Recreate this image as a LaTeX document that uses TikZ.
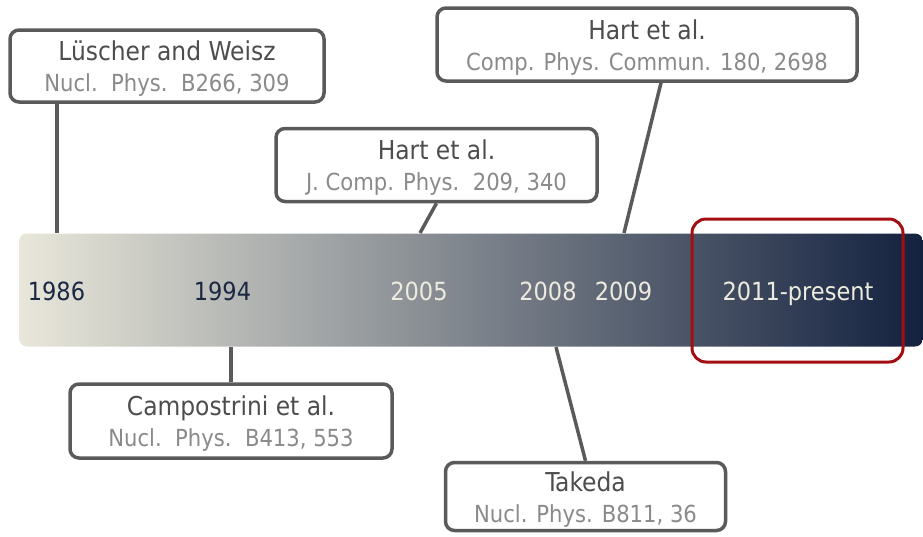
\documentclass[tikz,border=0pt]{standalone}
\usepackage{fontspec}
\IfFontExistsTF{DejaVu Sans Condensed}{\setmainfont{DejaVu Sans Condensed}}{\setmainfont[FakeStretch=0.9]{DejaVu Sans}}
\usepackage{xcolor}
\usepackage{tikz}
\usetikzlibrary{backgrounds}

\definecolor{boxgray}{HTML}{5A5A5A}
\definecolor{titlegray}{HTML}{4D4D4D}
\definecolor{subgray}{HTML}{8A8A8A}
\definecolor{yeardark}{HTML}{1B2844}
\definecolor{yearlight}{HTML}{EDEBDE}
\definecolor{barleft}{HTML}{E9E7DA}
\definecolor{barright}{HTML}{13213F}
\definecolor{nowred}{HTML}{A30E12}

\newcommand{\reftitle}[1]{{\color{titlegray}\fontsize{26}{31}\selectfont\rule{0pt}{25pt}#1}}

\tikzset{
  refbox/.style={draw=boxgray, line width=3.5pt, rounded corners=9pt, fill=white,
    align=center, inner sep=0pt, text=subgray, font=\fontsize{23.5}{31}\selectfont},
  link/.style={draw=boxgray, line width=3.5pt},
  timebar/.style={rounded corners=8pt, left color=barleft, right color=barright,
    inner sep=0pt, minimum width=904, minimum height=113},
  year/.style={anchor=base, inner sep=0pt, font=\fontsize{25}{30}\selectfont},
  nowframe/.style={draw=nowred, line width=3pt, rounded corners=14pt, inner sep=0pt},
}

\begin{document}
\begin{tikzpicture}[x=1pt, y=-1pt]
\useasboundingbox (0,0) rectangle (923,536);

\node[timebar] (line) at (471,290) {};

\node[refbox, minimum width=314, minimum height=72] (luscher) at (167,66)
  {\reftitle{Lüscher and Weisz}\\Nucl.\ \ Phys.\ \ B266, 309};
\node[refbox, minimum width=321, minimum height=73] (hart05) at (436.5,165)
  {\reftitle{Hart et al.}\\J. Comp. Phys.\ \ 209, 340};
\node[refbox, minimum width=420, minimum height=73] (hart09) at (647,44.5)
  {\reftitle{Hart et al.}\\Comp. Phys. Commun. 180, 2698};
\node[refbox, minimum width=322, minimum height=74] (campo) at (231,421)
  {\reftitle{Campostrini et al.}\\Nucl.\ \ Phys.\ \ B413, 553};
\node[refbox, minimum width=280, minimum height=68] (takeda) at (585.5,496.5)
  {\reftitle{Takeda}\\Nucl. Phys. B811, 36};

\coordinate (b86) at (57,233);
\coordinate (b05) at (420,233);
\coordinate (b09) at (624,233);
\coordinate (b08) at (556,347);

\begin{scope}[on background layer]
\draw[link] (b86 |- luscher.south) -- (b86);
\draw[link] (hart05.south) -- (b05);
\draw[link] ([xshift=14pt]hart09.south) -- (b09);
\draw[link] (campo.north) -- (campo.north |- line.south);
\draw[link] (b08) -- (takeda.north);
\end{scope}

\node[year, text=yeardark] (y86) at (56.5,300) {1986};
\node[year, text=yeardark] (y94) at (222.5,300) {1994};
\node[year, text=yearlight] (y05) at (419,300) {2005};
\node[year, text=yearlight] (y08) at (548,300) {2008};
\node[year, text=yearlight] (y09) at (623.5,300) {2009};
\node[year, text=yearlight] (y11) at (798,300) {2011-present};

\node[nowframe, minimum width=211, minimum height=143] (now) at (797.5,290.5) {};
\end{tikzpicture}
\end{document}
